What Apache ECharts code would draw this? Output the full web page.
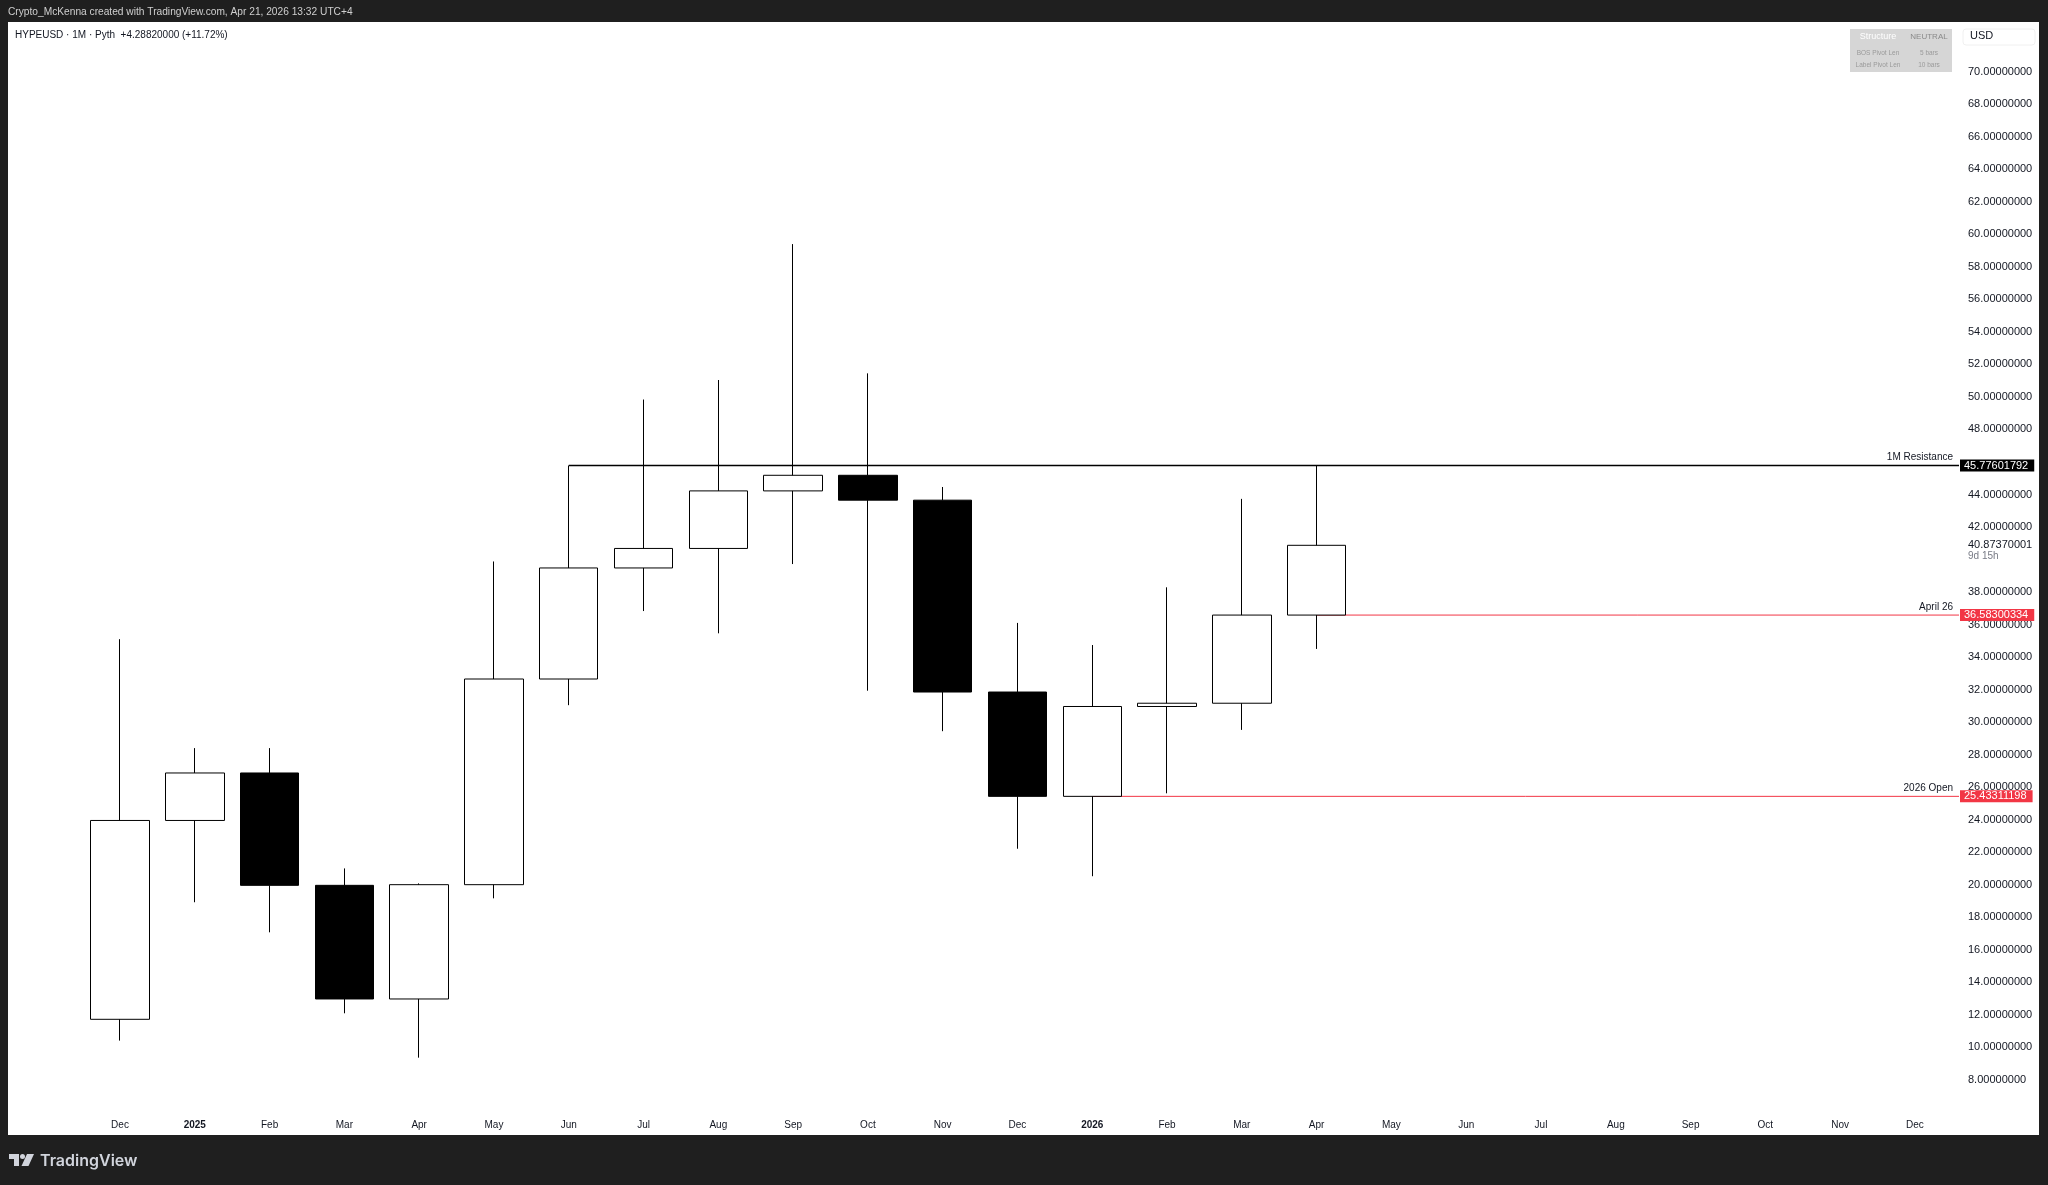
<!DOCTYPE html>
<html><head><meta charset="utf-8">
<script src="https://cdn.jsdelivr.net/npm/echarts@6/dist/echarts.min.js"></script>
<style>html,body{margin:0;padding:0;background:#1f1f1f;overflow:hidden}#c{width:2048px;height:1185px}</style>
</head><body><div id="c"></div>
<script>
// ---- data ----
const monthLabels = ['Dec','2025','Feb','Mar','Apr','May','Jun','Jul','Aug','Sep','Oct','Nov','Dec','2026','Feb','Mar','Apr','May','Jun','Jul','Aug','Sep','Oct','Nov','Dec'];
const opens  = [11.72, 23.95, 26.87, 19.96, 12.97, 20.00, 32.65, 39.48, 40.68, 44.22, 45.18, 43.65, 31.85, 25.43311198, 30.96, 31.16, 36.58300334];
const closes = [23.95, 26.87, 19.96, 12.97, 20.00, 32.65, 39.48, 40.68, 44.22, 45.18, 43.65, 31.85, 25.43311198, 30.96, 31.16, 36.58300334, 40.87370001];
const lows   = [10.41, 18.92, 17.07, 12.09, 9.36, 19.16, 31.04, 36.83, 35.46, 39.72, 31.93, 29.44, 22.21, 20.52, 25.62, 29.52, 34.50];
const highs  = [35.10, 28.40, 28.40, 21.00, 20.08, 39.88, 45.77601792, 49.84, 51.04, 59.40, 51.45, 44.46, 36.10, 34.74, 38.29, 43.73, 45.77601792];
const levelNames  = ['1M Resistance', 'April 26', '2026 Open'];
const levelValues = [45.77601792, 36.58300334, 25.43311198];
const levelStart  = [6, 16, 13];
const lastClose = 40.87370001;
const countdown = '9d 15h';
const hiddenTicks = [40, 46];
const headerText = 'Crypto_McKenna created with TradingView.com, Apr 21, 2026 13:32 UTC+4';
const symbolText = 'HYPEUSD · 1M · Pyth  +4.28820000 (+11.72%)';
const tableRows = [['Structure','NEUTRAL'],['BOS Pivot Len','5 bars'],['Label Pivot Len','10 bars']];

// ---- axis ranges ----
const X_MIN = -1.4975, X_MAX = 24.589;
const Y_MIN = 6, Y_MAX = 73.06;

const FONT = '"Liberation Sans", Arial, sans-serif';
const levelColors = ['#000000', '#f23645', '#f23645'];
const levelWidths = [1.5, 1, 1];

const candleData = opens.map((o, i) => [i, o, closes[i], lows[i], highs[i]]);

const levelSeries = levelValues.map((v, k) => ({
  type: 'line', silent: true, symbol: 'none', z: 2, animation: false,
  data: [[levelStart[k], v], [X_MAX, v]],
  lineStyle: { color: levelColors[k], width: levelWidths[k] },
  markPoint: {
    symbol: 'circle', symbolSize: 0, silent: true, animation: false,
    data: [
      { coord: [X_MAX, v], label: { show: true, position: [-6, -2], align: 'right', verticalAlign: 'bottom',
          formatter: levelNames[k], color: '#131722', fontSize: 10, lineHeight: 12, fontFamily: FONT } },
      { coord: [X_MAX, v], label: { show: true, position: [1, 0], align: 'left', verticalAlign: 'middle',
          formatter: v.toFixed(8), color: '#ffffff', backgroundColor: levelColors[k], padding: [0, 6, 0, 4],
          fontSize: 11, lineHeight: 12, fontFamily: FONT } }
    ]
  }
}));

const option = {
  animation: false,
  backgroundColor: 'transparent',
  grid: { left: 8, right: 89, top: 22, bottom: 72.7, containLabel: false },
  xAxis: {
    type: 'value', min: X_MIN, max: X_MAX, splitNumber: 26, minInterval: 1, maxInterval: 1,
    axisLine: { show: false }, axisTick: { show: false },
    splitLine: { show: false },
    axisLabel: {
      margin: 7, color: '#131722', fontSize: 10, lineHeight: 12, fontFamily: FONT,
      showMinLabel: true, showMaxLabel: true, hideOverlap: false,
      formatter: v => {
        const i = Math.round(v);
        if (Math.abs(v - i) > 1e-6 || i < 0 || i >= monthLabels.length) return '';
        const s = monthLabels[i];
        return /^\d{4}$/.test(s) ? '{b|' + s + '}' : s;
      },
      rich: { b: { fontWeight: 'bold', fontSize: 10, color: '#131722', fontFamily: FONT } }
    }
  },
  yAxis: {
    type: 'value', position: 'right', min: Y_MIN, max: Y_MAX, interval: 2,
    axisLine: { show: false }, axisTick: { show: false }, splitLine: { show: false },
    axisLabel: {
      margin: 9, color: '#131722', fontSize: 11, fontFamily: FONT, align: 'left',
      formatter: v => (Number.isInteger(v) && v >= 8 && v <= 70 && hiddenTicks.indexOf(v) < 0) ? v.toFixed(8) : ''
    }
  },
  series: [
    {
      type: 'candlestick', z: 3, barWidth: 59, silent: true,
      data: candleData,
      encode: { x: 0, y: [1, 2, 3, 4] },
      itemStyle: { color: '#ffffff', color0: '#000000', borderColor: '#000000', borderColor0: '#000000', borderWidth: 1 },
      markPoint: {
        symbol: 'circle', symbolSize: 0, silent: true, animation: false,
        data: [{ coord: [X_MAX, lastClose] }],
        label: {
          show: true, position: [9, -6], align: 'left', verticalAlign: 'top',
          formatter: '{a|' + lastClose.toFixed(8) + '}\n{c|' + countdown + '}',
          rich: {
            a: { color: '#131722', fontSize: 11, lineHeight: 11, fontFamily: FONT },
            c: { color: '#787b86', fontSize: 10, lineHeight: 11, fontFamily: FONT }
          }
        }
      }
    }
  ].concat(levelSeries),
  graphic: [
    { type: 'rect', z: -100, silent: true, shape: { x: 8, y: 22, width: 2031, height: 1113 }, style: { fill: '#ffffff' } },
    { type: 'text', z: 10, silent: true, x: 8, y: 12.5, style: { text: headerText, fill: '#cfcfcf', fontSize: 10.2, fontFamily: FONT, verticalAlign: 'middle' } },
    { type: 'text', z: 10, silent: true, x: 15, y: 35, style: { text: symbolText, fill: '#131722', fontSize: 10, fontFamily: FONT, verticalAlign: 'middle' } },
    { type: 'rect', z: 10, silent: true, shape: { x: 1850, y: 29, width: 102, height: 43 }, style: { fill: '#d6d6d6' } },
    { type: 'text', z: 11, silent: true, x: 1878, y: 37, style: { text: tableRows[0][0], fill: '#ffffff', fontSize: 9, fontFamily: FONT, align: 'center', verticalAlign: 'middle' } },
    { type: 'text', z: 11, silent: true, x: 1929, y: 37, style: { text: tableRows[0][1], fill: '#8a8a8a', fontSize: 8, fontFamily: FONT, align: 'center', verticalAlign: 'middle' } },
    { type: 'text', z: 11, silent: true, x: 1878, y: 53, style: { text: tableRows[1][0], fill: '#9a9a9a', fontSize: 6.5, fontFamily: FONT, align: 'center', verticalAlign: 'middle' } },
    { type: 'text', z: 11, silent: true, x: 1929, y: 53, style: { text: tableRows[1][1], fill: '#9a9a9a', fontSize: 6.5, fontFamily: FONT, align: 'center', verticalAlign: 'middle' } },
    { type: 'text', z: 11, silent: true, x: 1878, y: 65.5, style: { text: tableRows[2][0], fill: '#9a9a9a', fontSize: 6.5, fontFamily: FONT, align: 'center', verticalAlign: 'middle' } },
    { type: 'text', z: 11, silent: true, x: 1929, y: 65.5, style: { text: tableRows[2][1], fill: '#9a9a9a', fontSize: 6.5, fontFamily: FONT, align: 'center', verticalAlign: 'middle' } },
    { type: 'rect', z: 10, silent: true, shape: { x: 1963, y: 29, width: 72, height: 16, r: 3 }, style: { fill: 'none', stroke: '#f0f0f0', lineWidth: 1 } },
    { type: 'text', z: 11, silent: true, x: 1970, y: 36, style: { text: 'USD', fill: '#131722', fontSize: 11, fontFamily: FONT, verticalAlign: 'middle' } },
    { type: 'polygon', z: 10, silent: true, shape: { points: [[9,1154],[19,1154],[19,1166],[14,1166],[14,1159],[9,1159]] }, style: { fill: '#d1d4dc' } },
    { type: 'circle', z: 10, silent: true, shape: { cx: 22.5, cy: 1156.5, r: 2.5 }, style: { fill: '#d1d4dc' } },
    { type: 'polygon', z: 10, silent: true, shape: { points: [[27,1154],[34,1154],[28.5,1166],[21.5,1166]] }, style: { fill: '#d1d4dc' } },
    { type: 'text', z: 10, silent: true, x: 40, y: 1161, style: { text: 'TradingView', fill: '#d1d4dc', fontSize: 16, fontWeight: 600, fontFamily: 'Inter, "Liberation Sans", sans-serif', verticalAlign: 'middle' } }
  ]
};

const chart = echarts.init(document.getElementById('c'), null, { renderer: 'canvas' });
chart.setOption(option);
</script>
</body></html>
